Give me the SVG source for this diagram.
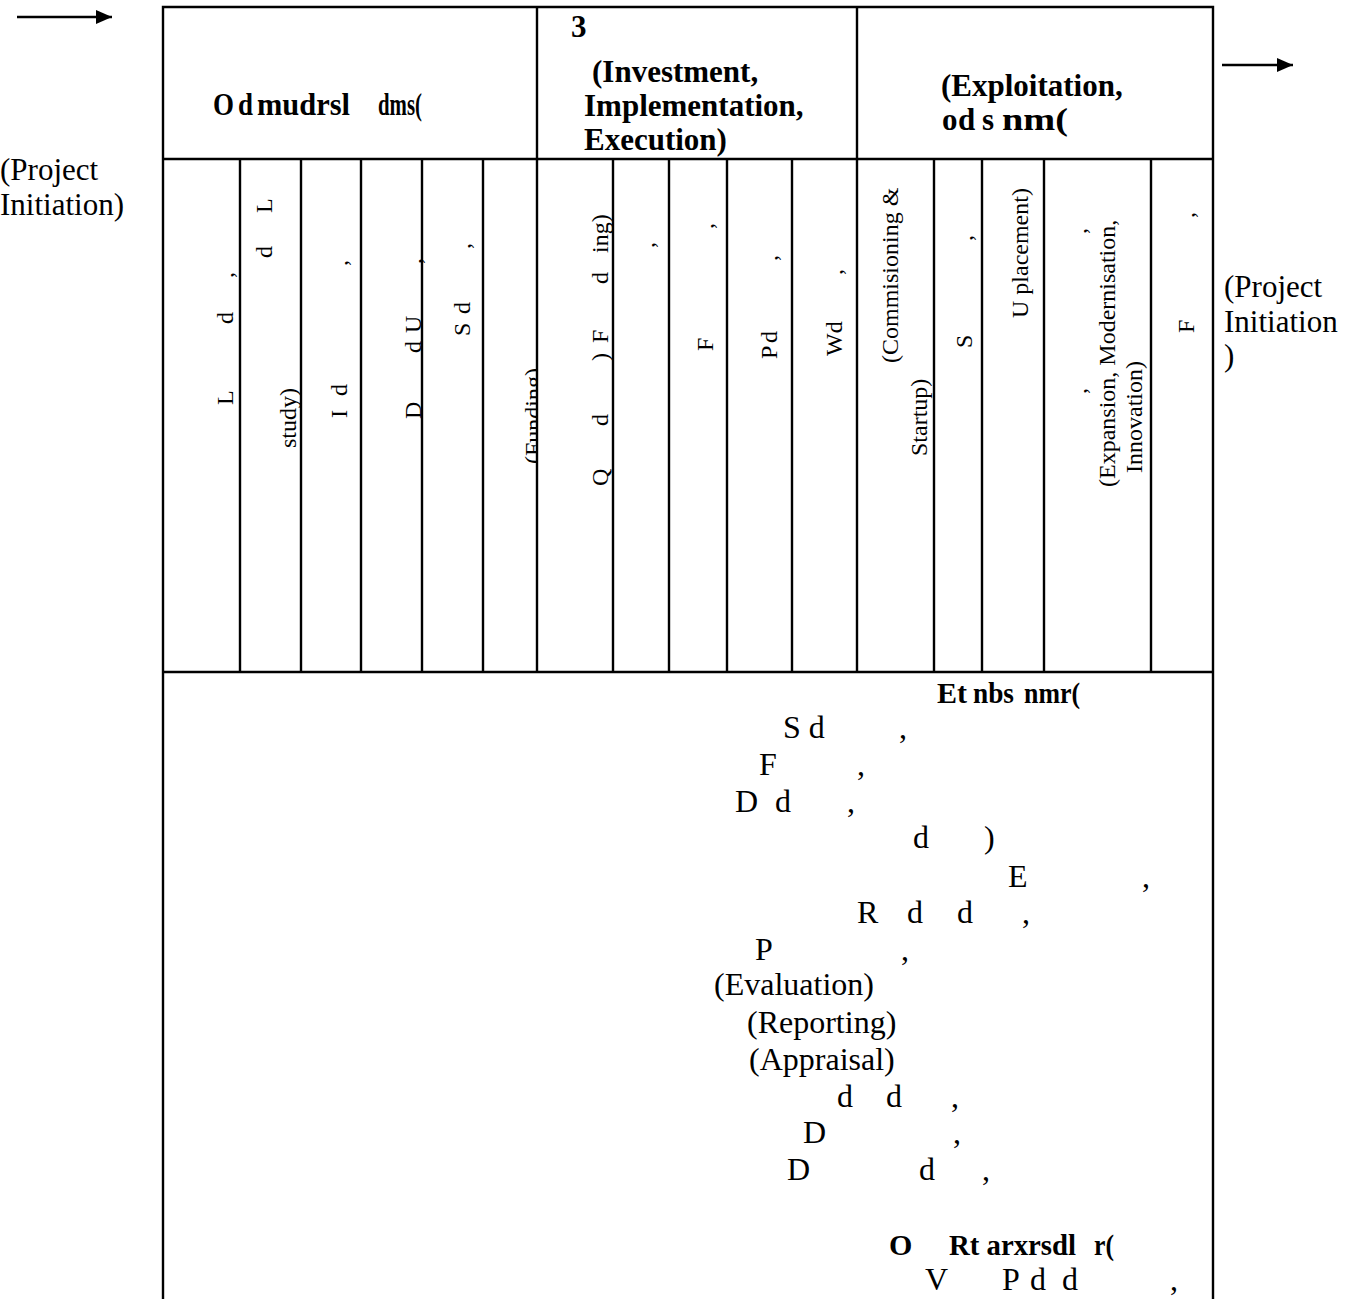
<svg xmlns="http://www.w3.org/2000/svg" width="1365" height="1299" viewBox="0 0 1365 1299">
<defs>
<style>
text{font-family:"Liberation Serif","Times New Roman",serif;fill:#000}
.lbl{font-size:31px}
.hb{font-size:31px;font-weight:bold}
.rot{font-size:24px}
.bd{font-size:32px}
.bb{font-size:30px;font-weight:bold}
.ln{stroke:#000;stroke-width:2.4;fill:none}
.ar{stroke:#000;stroke-width:2.4;fill:none}
</style>
<marker id="ah" markerUnits="userSpaceOnUse" markerWidth="16" markerHeight="14" refX="16" refY="7" orient="auto">
<path d="M0,0 L16,7 L0,14 Z" fill="#000"/>
</marker>
<clipPath id="cf"><rect x="484" y="160" width="52" height="511"/></clipPath>
</defs>
<rect width="1365" height="1299" fill="#fff"/>

<g id="connectors">
<line class="ar" x1="17" y1="17" x2="112" y2="17" marker-end="url(#ah)"/>
<line class="ar" x1="1222" y1="65" x2="1293" y2="65" marker-end="url(#ah)"/>
</g>

<g id="table-grid">
<path class="ln" d="M163,1299 V7 H1213 V1299"/>
<path class="ln" d="M163,159 H1213 M163,672 H1213"/>
<path class="ln" d="M537,7 V672 M857,7 V672"/>
<path class="ln" d="M240,159 V672 M301,159 V672 M361,159 V672 M422,159 V672 M483,159 V672 M613,159 V672 M669,159 V672 M727,159 V672 M792,159 V672 M934,159 V672 M982,159 V672 M1044,159 V672 M1151,159 V672"/>
</g>

<g id="label-left">
<text class="lbl" x="0" y="180">(Project</text>
<text class="lbl" x="0" y="215">Initiation)</text>
</g>
<g id="label-right">
<text class="lbl" x="1224" y="297">(Project</text>
<text class="lbl" x="1224" y="332">Initiation</text>
<text class="lbl" x="1224" y="366">)</text>
</g>

<g id="phase-1">
<text class="hb" x="213" y="115" textLength="21" lengthAdjust="spacingAndGlyphs">O</text>
<text class="hb" x="238" y="115" textLength="15" lengthAdjust="spacingAndGlyphs">d</text>
<text class="hb" x="257" y="115" textLength="93" lengthAdjust="spacingAndGlyphs">mudrsl</text>
<text class="hb" x="378" y="115" textLength="44" lengthAdjust="spacingAndGlyphs">dms(</text>
</g>
<g id="phase-2">
<text class="hb" x="571" y="37">3</text>
<text class="hb" x="592" y="82">(Investment,</text>
<text class="hb" x="584" y="116">Implementation,</text>
<text class="hb" x="584" y="150">Execution)</text>
</g>
<g id="phase-3">
<text class="hb" x="941" y="96">(Exploitation,</text>
<text class="hb" x="942" y="130">o</text>
<text class="hb" x="958" y="130">d</text>
<text class="hb" x="982" y="130">s</text>
<text class="hb" x="1002" y="130" textLength="66" lengthAdjust="spacingAndGlyphs">nm(</text>
</g>

<g id="col-1"><text class="rot" transform="rotate(-90)" y="233"><tspan x="-405">L</tspan><tspan x="-324">d</tspan><tspan x="-278">,</tspan></text></g>
<g id="col-2">
<text class="rot" transform="rotate(-90)" y="272"><tspan x="-258">d</tspan><tspan x="-213">L</tspan></text>
<text class="rot" transform="rotate(-90)" x="-448" y="296">study)</text>
</g>
<g id="col-3"><text class="rot" transform="rotate(-90)" y="347"><tspan x="-418">I</tspan><tspan x="-396">d</tspan><tspan x="-266">,</tspan></text></g>
<g id="col-4"><text class="rot" transform="rotate(-90)" y="421"><tspan x="-419">D</tspan><tspan x="-353">d</tspan><tspan x="-333">U</tspan><tspan x="-264">,</tspan></text></g>
<g id="col-5"><text class="rot" transform="rotate(-90)" y="470"><tspan x="-336">S</tspan><tspan x="-314">d</tspan><tspan x="-249">,</tspan></text></g>
<g id="col-6" clip-path="url(#cf)"><text class="rot" transform="rotate(-90)" x="-464" y="541">(Funding)</text></g>
<g id="col-7"><text class="rot" transform="rotate(-90)" y="608"><tspan x="-486">Q</tspan><tspan x="-426">d</tspan><tspan x="-361">)</tspan><tspan x="-343">F</tspan><tspan x="-284">d</tspan><tspan x="-253">ing)</tspan></text></g>
<g id="col-8"><text class="rot" transform="rotate(-90)" x="-248" y="654">,</text></g>
<g id="col-9"><text class="rot" transform="rotate(-90)" y="713"><tspan x="-351">F</tspan><tspan x="-229">,</tspan></text></g>
<g id="col-10"><text class="rot" transform="rotate(-90)" y="777"><tspan x="-359">P</tspan><tspan x="-343">d</tspan><tspan x="-261">,</tspan></text></g>
<g id="col-11"><text class="rot" transform="rotate(-90)" y="842"><tspan x="-356">Wd</tspan><tspan x="-275">,</tspan></text></g>
<g id="col-12">
<text class="rot" transform="rotate(-90)" x="-363" y="898">(Commisioning &amp;</text>
<text class="rot" transform="rotate(-90)" x="-456" y="927">Startup)</text>
</g>
<g id="col-13"><text class="rot" transform="rotate(-90)" y="972"><tspan x="-348">S</tspan><tspan x="-241">,</tspan></text></g>
<g id="col-14"><text class="rot" transform="rotate(-90)" x="-318" y="1028">U placement)</text></g>
<g id="col-15">
<text class="rot" transform="rotate(-90)" y="1086"><tspan x="-394">,</tspan><tspan x="-234">,</tspan></text>
<text class="rot" transform="rotate(-90)" x="-487" y="1115">(Expansion, Modernisation,</text>
<text class="rot" transform="rotate(-90)" x="-473" y="1142">Innovation)</text>
</g>
<g id="col-16"><text class="rot" transform="rotate(-90)" y="1194"><tspan x="-333">F</tspan><tspan x="-218">,</tspan></text></g>

<g id="functions">
<text class="bb" x="937" y="703" textLength="30" lengthAdjust="spacingAndGlyphs">Et</text>
<text class="bb" x="973" y="703" textLength="41" lengthAdjust="spacingAndGlyphs">nbs</text>
<text class="bb" x="1024" y="703" textLength="56" lengthAdjust="spacingAndGlyphs">nmr(</text>
<text class="bd" y="738"><tspan x="783">S d</tspan><tspan x="899">,</tspan></text>
<text class="bd" y="775"><tspan x="759">F</tspan><tspan x="857">,</tspan></text>
<text class="bd" y="812"><tspan x="735">D</tspan><tspan x="775">d</tspan><tspan x="847">,</tspan></text>
<text class="bd" y="848"><tspan x="913">d</tspan><tspan x="984">)</tspan></text>
<text class="bd" y="887"><tspan x="1008">E</tspan><tspan x="1142">,</tspan></text>
<text class="bd" y="923"><tspan x="857">R</tspan><tspan x="907">d</tspan><tspan x="957">d</tspan><tspan x="1022">,</tspan></text>
<text class="bd" y="960"><tspan x="755">P</tspan><tspan x="901">,</tspan></text>
<text class="bd" x="714" y="995">(Evaluation)</text>
<text class="bd" x="747" y="1033">(Reporting)</text>
<text class="bd" x="749" y="1070">(Appraisal)</text>
<text class="bd" y="1107"><tspan x="837">d</tspan><tspan x="886">d</tspan><tspan x="951">,</tspan></text>
<text class="bd" y="1143"><tspan x="803">D</tspan><tspan x="953">,</tspan></text>
<text class="bd" y="1180"><tspan x="787">D</tspan><tspan x="919">d</tspan><tspan x="982">,</tspan></text>
</g>
<g id="sub-functions">
<text class="bb" x="889" y="1255">O</text>
<text class="bb" x="949" y="1255" textLength="127" lengthAdjust="spacingAndGlyphs">Rt arxrsdl</text>
<text class="bb" x="1094" y="1255" textLength="20" lengthAdjust="spacingAndGlyphs">r(</text>
<text class="bd" y="1290"><tspan x="925">V</tspan><tspan x="1002">P</tspan><tspan x="1030">d</tspan><tspan x="1062">d</tspan><tspan x="1170">,</tspan></text>
</g>
</svg>
